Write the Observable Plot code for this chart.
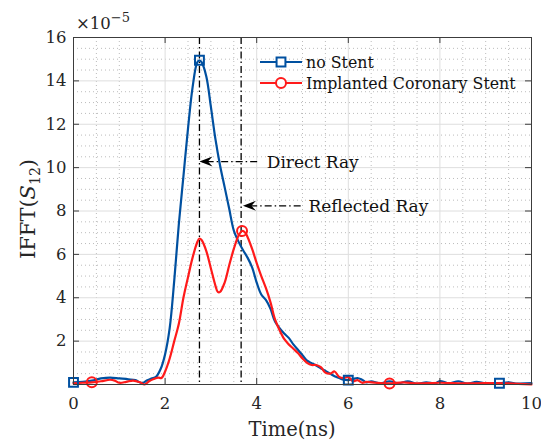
<!DOCTYPE html>
<html><head><meta charset="utf-8">
<script src="https://cdn.jsdelivr.net/npm/d3@7"></script>
<script src="https://cdn.jsdelivr.net/npm/@observablehq/plot@0.6"></script>
<style>body{margin:0;background:#fff;} svg{display:block}</style>
</head><body><div id="chart"></div>
<script>
// ---- data (time in ns, amplitude in units of 1e-5) ----
const seriesNames = ["no Stent", "Implanted Coronary Stent"];
const noStent = [[0,0.10],[0.2,0.12],[0.4,0.18],[0.6,0.28],[0.8,0.32],[1.0,0.28],[1.2,0.24],[1.35,0.20],[1.5,0.06],[1.6,0.18],[1.7,0.28],[1.8,0.35],[1.9,0.70],[2.0,1.40],[2.1,2.60],[2.2,4.80],[2.3,7.40],[2.4,9.60],[2.5,11.8],[2.6,13.7],[2.7,14.85],[2.75,14.95],[2.8,14.85],[2.9,14.2],[3.0,12.8],[3.1,11.3],[3.2,10.1],[3.3,9.1],[3.4,8.1],[3.5,7.1],[3.6,6.6],[3.7,6.2],[3.8,5.85],[3.9,5.4],[4.0,4.7],[4.1,4.15],[4.2,3.9],[4.3,3.5],[4.4,2.9],[4.5,2.6],[4.6,2.35],[4.7,2.15],[4.8,1.85],[4.9,1.6],[5.0,1.35],[5.1,1.1],[5.2,0.98],[5.3,0.88],[5.4,0.75],[5.5,0.62],[5.6,0.5],[5.7,0.38],[5.8,0.3],[5.9,0.22],[6.0,0.2],[6.1,0.25],[6.2,0.3],[6.3,0.22],[6.4,0.1],[6.5,0.15],[6.7,0.05],[6.9,0.15],[7.1,0.05],[7.3,0.15],[7.5,0.03],[7.7,0.1],[7.9,0.05],[8.0,0.16],[8.2,0.05],[8.4,0.15],[8.6,0.04],[8.8,0.12],[9.0,0.05],[9.3,0.06],[9.5,0.1],[9.7,0.04],[10,0.06]];
const withStent = [[0,0.05],[0.2,0.08],[0.4,0.10],[0.6,0.15],[0.8,0.22],[0.9,0.18],[1.0,0.08],[1.15,0.12],[1.3,0.18],[1.45,0.10],[1.55,0.0],[1.65,0.15],[1.75,0.25],[1.85,0.32],[1.92,0.30],[2.0,0.6],[2.1,1.2],[2.2,2.0],[2.3,2.8],[2.4,4.0],[2.5,4.95],[2.6,5.85],[2.7,6.55],[2.75,6.73],[2.8,6.65],[2.9,6.15],[3.0,5.35],[3.1,4.55],[3.15,4.27],[3.2,4.27],[3.3,4.7],[3.4,5.5],[3.5,6.25],[3.6,6.85],[3.68,7.08],[3.75,7.0],[3.8,6.8],[3.9,6.25],[4.0,5.6],[4.1,5.0],[4.2,4.45],[4.3,3.8],[4.4,3.0],[4.5,2.5],[4.6,2.1],[4.7,1.85],[4.8,1.65],[4.9,1.45],[5.0,1.2],[5.1,1.0],[5.2,0.9],[5.3,0.9],[5.4,0.8],[5.5,0.55],[5.6,0.5],[5.7,0.6],[5.8,0.35],[5.9,0.3],[6.0,0.35],[6.1,0.15],[6.2,0.2],[6.3,0.08],[6.4,0.12],[6.6,0.08],[6.9,0.05],[7.2,0.1],[7.5,0.05],[8.0,0.08],[8.5,0.05],[9.0,0.06],[9.5,0.05],[10,0.0]];
const noStentMarkers = [[0,0.10],[2.75,14.95],[6.0,0.2],[9.3,0.06]];
const withStentMarkers = [[0.4,0.10],[3.68,7.08],[6.9,0.05]];
const xTicks = [0,2,4,6,8,10];
const yTicks = [2,4,6,8,10,12,14,16];
const rayTimes = [2.75, 3.66];
const rayLabels = ["Direct Ray", "Reflected Ray"];
const rayArrowY = [10.28, 8.24];
const rayArrowTail = [4.01, 4.96];
const rayArrowTip = [2.75, 3.70];
const rayLabelX = [4.22, 5.13];
const exponentText = "−5";

// ---- layout ----
const W = 541, H = 444, mL = 73, mR = 10, mT = 37, mB = 60;
const innerH = H - mT - mB;
const blue = "#0050a0", red = "#ff1a1a";
const fam = "DejaVu Serif";
const minorX = d3.range(0, 10.001, 0.5).filter(v => !xTicks.includes(v));
const minorY = d3.range(0, 16.001, 0.5).filter(v => !yTicks.includes(v) && v !== 0);
const rays = rayLabels.map((t, i) => ({label: t, y: rayArrowY[i], tail: rayArrowTail[i], tip: rayArrowTip[i], lx: rayLabelX[i]}));
const arrowHead = {draw(ctx) { ctx.moveTo(0, 0); ctx.lineTo(13, -5); ctx.lineTo(8.5, 0); ctx.lineTo(13, 5); ctx.closePath(); }};
const dashDot = "7,3,1.5,3";

const plot = Plot.plot({
  width: W, height: H, marginLeft: mL, marginRight: mR, marginTop: mT, marginBottom: mB,
  style: {fontFamily: fam, fontSize: "16px", color: "#262626", background: "#fff"},
  x: {domain: [0, 10]},
  y: {domain: [0, 16]},
  marks: [
    Plot.ruleX(minorX, {stroke: "#b4b4b4", strokeDasharray: "1,3", strokeWidth: 0.9}),
    Plot.ruleY(minorY, {stroke: "#b4b4b4", strokeDasharray: "1,3", strokeWidth: 0.9}),
    Plot.ruleX(xTicks, {stroke: "#dedede", strokeWidth: 1}),
    Plot.ruleY(yTicks, {stroke: "#dedede", strokeWidth: 1}),
    Plot.ruleX(rayTimes, {stroke: "#000", strokeWidth: 1.3, strokeDasharray: dashDot}),
    Plot.line(noStent, {x: d => d[0], y: d => d[1], stroke: blue, strokeWidth: 2.2, curve: "catmull-rom"}),
    Plot.line(withStent, {x: d => d[0], y: d => d[1], stroke: red, strokeWidth: 2.2, curve: "catmull-rom"}),
    Plot.dot(noStentMarkers, {x: d => d[0], y: d => d[1], symbol: "square", r: 5, stroke: blue, strokeWidth: 2, fill: "none"}),
    Plot.dot(withStentMarkers, {x: d => d[0], y: d => d[1], symbol: "circle", r: 5, stroke: red, strokeWidth: 2, fill: "none"}),
    Plot.link(rays, {x1: "tail", x2: "tip", y1: "y", y2: "y", stroke: "#000", strokeWidth: 1.3, strokeDasharray: dashDot}),
    Plot.dot(rays, {x: "tip", y: "y", symbol: arrowHead, fill: "#000", stroke: "none"}),
    Plot.text(rays, {x: "lx", y: "y", text: "label", textAnchor: "start", fontSize: 17, fontFamily: fam, fill: "#111", dy: 1}),
    Plot.frame({stroke: "#3c3c3c", strokeWidth: 1}),
    Plot.ruleX(xTicks, {stroke: "#3c3c3c", insetTop: innerH - 6}),
    Plot.ruleX(xTicks, {stroke: "#3c3c3c", insetBottom: innerH - 6}),
    Plot.ruleY(yTicks, {stroke: "#3c3c3c", insetRight: (W - mL - mR) - 6}),
    Plot.ruleY(yTicks, {stroke: "#3c3c3c", insetLeft: (W - mL - mR) - 6}),
    Plot.axisX(xTicks, {tickSize: 0, tickPadding: 13, label: null, fontSize: 16.5, fontFamily: fam, fill: "#262626"}),
    Plot.axisY(yTicks, {tickSize: 0, tickPadding: 7, label: null, fontSize: 16.5, fontFamily: fam, fill: "#262626"})
  ]
});

const svg = d3.select(plot);
// x label
svg.append("text").attr("x", 292).attr("y", 436).attr("text-anchor", "middle")
  .attr("font-family", fam).attr("font-size", 19.5).attr("fill", "#262626").text("Time(ns)");
// y label
const yl = svg.append("text").attr("transform", "translate(35,209) rotate(-90)").attr("text-anchor", "middle")
  .attr("font-family", fam).attr("font-size", 21).attr("fill", "#262626");
yl.append("tspan").text("IFFT(");
yl.append("tspan").attr("font-style", "italic").text("S");
yl.append("tspan").attr("font-size", 14).attr("dy", 5).text("12");
yl.append("tspan").attr("dy", -5).text(")");
// exponent
const ex = svg.append("text").attr("x", 76).attr("y", 29).attr("text-anchor", "start")
  .attr("font-family", fam).attr("font-size", 16.5).attr("fill", "#262626");
ex.append("tspan").text("×10");
ex.append("tspan").attr("font-size", 13).attr("dy", -7).text(exponentText);
// legend
const colors = [blue, red];
const symbols = [d3.symbolSquare, d3.symbolCircle];
const lg = svg.append("g");
seriesNames.forEach((name, i) => {
  const y = 62 + i * 21;
  lg.append("line").attr("x1", 260).attr("x2", 302).attr("y1", y).attr("y2", y).attr("stroke", colors[i]).attr("stroke-width", 2.2);
  lg.append("path").attr("d", d3.symbol(symbols[i], Math.PI * 25)()).attr("transform", `translate(281,${y})`)
    .attr("fill", "#fff").attr("stroke", colors[i]).attr("stroke-width", 2);
  lg.append("text").attr("x", 306).attr("y", y).attr("dy", "0.35em").attr("text-anchor", "start")
    .attr("font-family", fam).attr("font-size", 15.8).attr("fill", "#111").text(name);
});
document.getElementById("chart").appendChild(plot);
</script>
</body></html>
